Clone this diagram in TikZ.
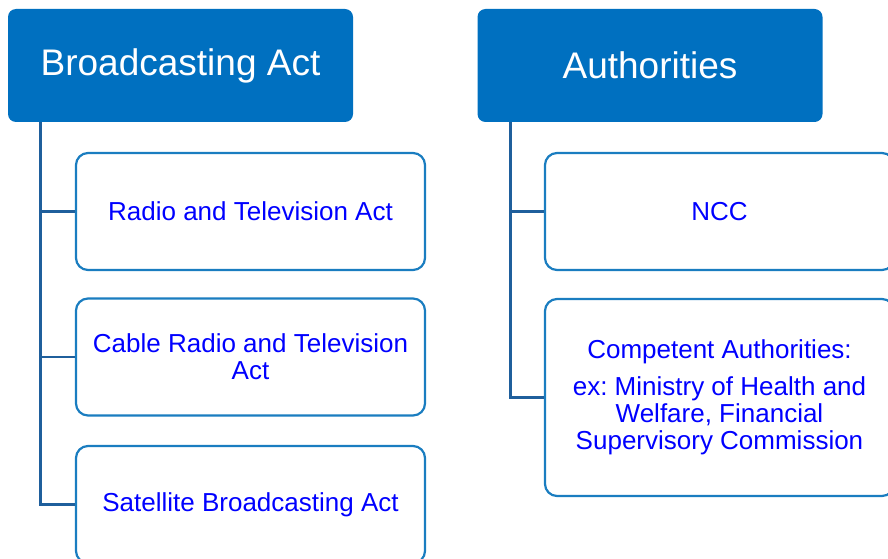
\documentclass[tikz,border=0pt]{standalone}
\usepackage{fontspec}
\setmainfont{Liberation Sans}
\usepackage{xcolor}
\usetikzlibrary{positioning}
\frenchspacing
\definecolor{headblue}{HTML}{0070C0}
\definecolor{edgeblue}{HTML}{1A7DC0}
\definecolor{linkblue}{HTML}{1F5F9C}
\definecolor{txtblue}{HTML}{0000FF}
\tikzset{
  head/.style={fill=headblue,draw=none,rounded corners=8pt,text=white,minimum width=345pt,minimum height=113pt,inner sep=0pt,font=\fontsize{37}{44}\selectfont},
  sub/.style={draw=edgeblue,line width=2.2pt,rounded corners=12pt,fill=white,text=txtblue,minimum width=349pt,minimum height=117pt,inner sep=0pt,align=center,font=\fontsize{26}{27}\selectfont},
  link/.style={linkblue,line width=2.8pt}
}

\begin{document}
\begin{tikzpicture}[x=1pt,y=-1pt]
\clip (0,0) rectangle (888,559);
% headers
\node[head] (bact) at (180.5,65.5) {Broadcasting Act};
\node[head] (auth) at (650,65.5) {Authorities};
% left column
\node[sub] (rtv) at (250.5,211.5) {Radio and Television Act};
\node[sub] (crtv) at (250.5,357) {Cable Radio and Television\\Act};
\node[sub] (sba) at (250.5,504.5) {Satellite Broadcasting Act};
% right column
\node[sub] (ncc) at (719.5,211.5) {NCC};
\node[sub,minimum height=197pt] (comp) at (719.5,397.5) {Competent Authorities:\\[10pt]ex: Ministry of Health and\\Welfare, Financial\\Supervisory Commission};
% connectors
\coordinate (bl) at ([xshift=33pt]bact.south west);
\coordinate (al) at ([xshift=33pt]auth.south west);
\draw[link] (bl) |- (sba.west);
\draw[link] (bl |- rtv.west) -- (rtv.west);
\draw[link] (bl |- crtv.west) -- (crtv.west);
\draw[link] (al) |- (comp.west);
\draw[link] (al |- ncc.west) -- (ncc.west);
\end{tikzpicture}
\end{document}
